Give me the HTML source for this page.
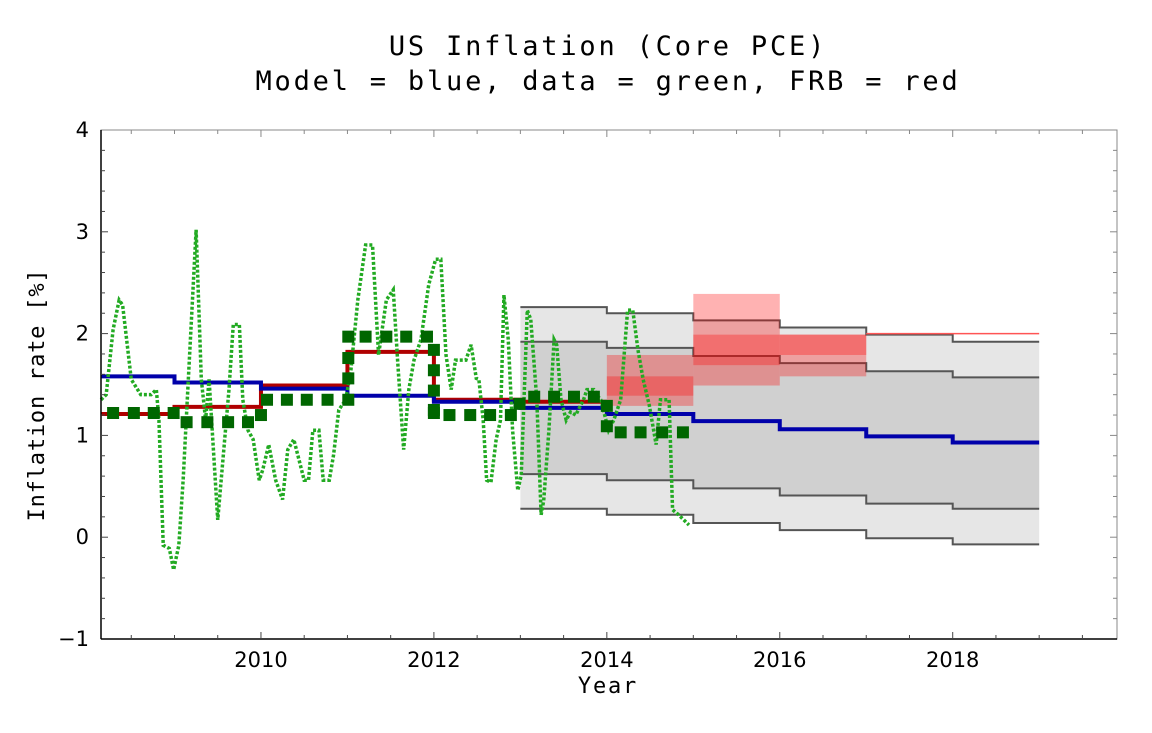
<!DOCTYPE html>
<html><head><meta charset="utf-8"><style>
html,body{margin:0;padding:0;background:#fff;}
svg text{font-family:"DejaVu Sans Mono","Liberation Mono",monospace;fill:#000;}
svg text.tick{font-family:"DejaVu Sans","Liberation Sans",sans-serif;}
</style></head><body>
<svg id="chart" width="1152" height="728" viewBox="0 0 1152 728" xmlns="http://www.w3.org/2000/svg">
<text x="608" y="55" font-size="27" letter-spacing="2.8" text-anchor="middle">US Inflation (Core PCE)</text>
<text x="608" y="90" font-size="27" letter-spacing="2.8" text-anchor="middle">Model = blue, data = green, FRB = red</text>
<text x="608" y="693" font-size="22" letter-spacing="1.8" text-anchor="middle">Year</text>
<text transform="translate(44,395) rotate(-90)" font-size="22" letter-spacing="0.8" text-anchor="middle">Inflation rate [%]</text>
<g id="plot"></g>
</svg>
<script>
const xTicks=[2010,2012,2014,2016,2018];
const yTicks=[-1,0,1,2,3,4];
const bandYears=[2013,2014,2015,2016,2017,2018];
const outerUpper=[2.26,2.20,2.13,2.06,1.99,1.92];
const innerUpper=[1.92,1.86,1.78,1.71,1.63,1.57];
const innerLower=[0.62,0.56,0.48,0.41,0.33,0.28];
const outerLower=[0.28,0.22,0.14,0.07,-0.01,-0.07];
const modelStarts=[2008.15,2009,2010,2011,2012,2013,2014,2015,2016,2017,2018];
const modelValues=[1.58,1.52,1.46,1.39,1.33,1.27,1.21,1.14,1.06,0.99,0.93];
const frbStarts=[2008.15,2009,2010,2011,2012,2013];
const frbValues=[1.21,1.28,1.49,1.82,1.35,1.33];
const frbBoxYears=[2014,2015,2016];
const frbOuterLo=[1.29,1.49,1.58];
const frbOuterHi=[1.79,2.39,1.99];
const frbInnerLo=[1.39,1.69,1.79];
const frbInnerHi=[1.58,1.99,1.99];
const frbLineYears=[2017,2019];
const frbLineValue=2.0;
const dataYears=[2008.15,2008.21,2008.29,2008.36,2008.40,2008.50,2008.61,2008.73,2008.79,2008.82,2008.87,2008.94,2008.99,2009.05,2009.10,2009.16,2009.25,2009.31,2009.36,2009.40,2009.45,2009.50,2009.56,2009.63,2009.68,2009.75,2009.79,2009.85,2009.91,2009.98,2010.02,2010.09,2010.17,2010.25,2010.31,2010.38,2010.44,2010.50,2010.55,2010.60,2010.67,2010.72,2010.79,2010.84,2010.90,2010.98,2011.04,2011.12,2011.21,2011.29,2011.36,2011.45,2011.53,2011.58,2011.65,2011.71,2011.77,2011.85,2011.94,2012.02,2012.08,2012.14,2012.20,2012.25,2012.31,2012.37,2012.43,2012.49,2012.52,2012.57,2012.61,2012.66,2012.72,2012.77,2012.81,2012.86,2012.91,2012.97,2013.01,2013.08,2013.12,2013.19,2013.24,2013.27,2013.33,2013.39,2013.42,2013.47,2013.53,2013.58,2013.64,2013.73,2013.77,2013.85,2013.90,2013.93,2013.99,2014.02,2014.08,2014.16,2014.24,2014.30,2014.36,2014.42,2014.49,2014.57,2014.62,2014.67,2014.72,2014.76,2014.83,2014.95];
const dataValues=[1.35,1.40,2.04,2.33,2.28,1.55,1.40,1.40,1.45,1.15,-0.08,-0.11,-0.32,-0.08,0.56,1.55,3.02,1.55,1.15,1.55,0.86,0.17,0.76,1.45,2.09,2.09,1.35,1.05,0.96,0.56,0.66,0.91,0.56,0.37,0.86,0.96,0.76,0.56,0.56,1.05,1.05,0.56,0.56,0.81,1.25,1.35,1.64,2.33,2.87,2.87,1.79,2.33,2.43,1.74,0.86,1.45,1.74,1.94,2.48,2.73,2.73,1.79,1.45,1.74,1.74,1.74,1.89,1.56,1.55,1.15,0.56,0.54,0.96,1.15,2.38,1.94,1.05,0.46,0.61,2.23,2.14,1.35,0.22,0.36,1.05,1.94,1.89,1.35,1.15,1.23,1.20,1.35,1.45,1.45,1.38,1.35,1.15,1.05,1.15,1.35,2.23,2.23,1.84,1.55,1.30,0.91,1.35,1.35,1.35,0.27,0.22,0.12];
const avgYears=[2008.29,2008.53,2008.76,2008.99,2009.14,2009.38,2009.62,2009.85,2010.0,2010.07,2010.30,2010.53,2010.77,2011.01,2011.01,2011.01,2011.01,2011.21,2011.45,2011.68,2011.92,2012.0,2012.0,2012.0,2012.0,2012.0,2012.18,2012.42,2012.65,2012.89,2012.99,2013.16,2013.39,2013.62,2013.85,2014.0,2014.0,2014.16,2014.39,2014.64,2014.88];
const avgValues=[1.22,1.22,1.22,1.22,1.13,1.13,1.13,1.13,1.20,1.35,1.35,1.35,1.35,1.35,1.56,1.76,1.97,1.97,1.97,1.97,1.97,1.84,1.64,1.44,1.25,1.22,1.20,1.20,1.20,1.20,1.31,1.38,1.38,1.38,1.38,1.29,1.09,1.03,1.03,1.03,1.03];

const L=101,R=1117,T=130,B=639,X0=2008.15,X1=2019.9,Y0=-1,Y1=4;
const sx=v=>L+(v-X0)/(X1-X0)*(R-L);
const sy=v=>B-(v-Y0)/(Y1-Y0)*(B-T);
const NS='http://www.w3.org/2000/svg';
const g=document.getElementById('plot');
function mk(tag,attrs){const e=document.createElementNS(NS,tag);for(const k in attrs)e.setAttribute(k,attrs[k]);g.appendChild(e);return e;}
function stepPath(xs,ys,end){let d='';for(let i=0;i<xs.length;i++){const x0=sx(xs[i]),x1=sx(i+1<xs.length?xs[i+1]:end),y=sy(ys[i]);d+=(i?'L':'M')+x0+','+y+'L'+x1+','+y;}return d;}
function bandPoly(up,lo){let pts=[];for(let i=0;i<bandYears.length;i++){pts.push([sx(bandYears[i]),sy(up[i])],[sx(bandYears[i]+1),sy(up[i])]);}for(let i=bandYears.length-1;i>=0;i--){pts.push([sx(bandYears[i]+1),sy(lo[i])],[sx(bandYears[i]),sy(lo[i])]);}return pts.map(p=>p.join(',')).join(' ');}

let e;
e=mk('polygon',{points:bandPoly(outerUpper,outerLower),fill:'#e6e6e6'});


e=mk('polygon',{points:bandPoly(innerUpper,innerLower),fill:'#d0d0d0'});


[outerUpper,innerUpper,innerLower,outerLower].forEach((arr,i)=>{
  e=mk('path',{d:stepPath(bandYears,arr,2019),fill:'none',stroke:'#555',"stroke-width":2});
  
  
});
for(let i=0;i<frbBoxYears.length;i++){
  e=mk('rect',{x:sx(frbBoxYears[i]),y:sy(frbOuterHi[i]),width:sx(frbBoxYears[i]+1)-sx(frbBoxYears[i]),height:sy(frbOuterLo[i])-sy(frbOuterHi[i]),fill:'rgba(255,0,0,0.3)'});
  
  
  e=mk('rect',{x:sx(frbBoxYears[i]),y:sy(frbInnerHi[i]),width:sx(frbBoxYears[i]+1)-sx(frbBoxYears[i]),height:sy(frbInnerLo[i])-sy(frbInnerHi[i]),fill:'rgba(255,0,0,0.3)'});
  
  
}
e=mk('line',{x1:sx(frbLineYears[0]),x2:sx(frbLineYears[1]),y1:sy(frbLineValue),y2:sy(frbLineValue),stroke:'#f55',"stroke-width":1.5});


e=mk('path',{d:stepPath(frbStarts,frbValues,2014),fill:'none',stroke:'#b00000',"stroke-width":4});


e=mk('path',{d:stepPath(modelStarts,modelValues,2019),fill:'none',stroke:'#0000aa',"stroke-width":4});


e=mk('polyline',{points:dataYears.map((t,i)=>sx(t)+','+sy(dataValues[i])).join(' '),fill:'none',stroke:'#22aa22',"stroke-width":3.5,"stroke-dasharray":'3,2'});


for(let i=0;i<avgYears.length;i++){
  e=mk('rect',{x:sx(avgYears[i])-6,y:sy(avgValues[i])-6,width:12,height:12,fill:'#006600'});
  
  
}
e=mk('rect',{x:L,y:T,width:R-L,height:B-T,fill:'none',stroke:'#888',"stroke-width":1});


e=mk('line',{x1:L,x2:L,y1:T,y2:B,stroke:'#000',"stroke-width":1.5});


e=mk('line',{x1:L,x2:R,y1:B,y2:B,stroke:'#000',"stroke-width":1.5});


for(let v=2008.5;v<X1;v+=0.5){
  const major=xTicks.includes(v);
  mk('line',{x1:sx(v),x2:sx(v),y1:B,y2:B-(major?7:4),stroke:'#444',"stroke-width":1});
  mk('line',{x1:sx(v),x2:sx(v),y1:T,y2:T+(major?7:4),stroke:'#888',"stroke-width":1});
}
for(let v=-0.8;v<4;v+=0.2){
  const major=Math.abs(v-Math.round(v))<1e-6;
  mk('line',{x1:L,x2:L+(major?7:4),y1:sy(v),y2:sy(v),stroke:'#444',"stroke-width":1});
  mk('line',{x1:R,x2:R-(major?7:4),y1:sy(v),y2:sy(v),stroke:'#888',"stroke-width":1});
}
xTicks.forEach(v=>{
  e=mk('text',{x:sx(v),y:B+28,"font-size":21,"text-anchor":'middle',"class":'tick'});
  e.textContent=v;
  
  
});
yTicks.forEach(v=>{
  e=mk('text',{x:L-12,y:sy(v)+7,"font-size":21,"text-anchor":'end',"class":'tick'});
  e.textContent=v<0?'\u2212'+(-v):String(v);
  
  
});
</script>
</body></html>
